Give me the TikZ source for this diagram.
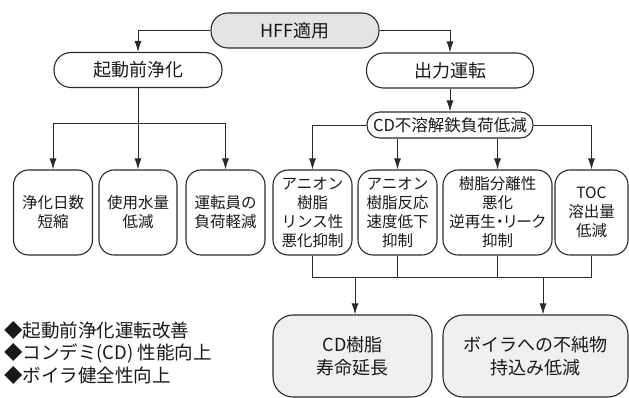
\documentclass[tikz,border=0pt]{standalone}
\usepackage{fontspec}
\setmainfont{Noto Sans CJK JP}
\usetikzlibrary{arrows.meta}
\newcommand\fsz[2]{\fontsize{#1}{#2}\selectfont}
\definecolor{edge}{HTML}{2A2A2A}
\definecolor{hfffill}{HTML}{E2E4E6}
\definecolor{botfill}{HTML}{EEF0F1}
\tikzset{
  box/.style={draw=edge, line width=1.1pt, inner sep=0pt, align=center, text=black!90},
  pill/.style={box, rounded corners=17pt, minimum height=35pt, font=\fsz{18}{22}},
  smallpill/.style={box, rounded corners=12.5pt, minimum height=26pt, font=\fsz{16.5}{20}},
  midbox/.style={box, rounded corners=15pt, minimum height=85pt, font=\fsz{15.5}{19}},
  botbox/.style={box, rounded corners=20pt, minimum height=82pt, font=\fsz{18}{23}, fill=botfill},
  ln/.style={draw=edge, line width=0.9pt},
  arr/.style={ln, -{Latex[length=11pt,width=7pt]}},
}
\begin{document}
\begin{tikzpicture}[x=1pt,y=-1pt]
\useasboundingbox (0,0) rectangle (629,398);
% top
\node[pill, fill=hfffill, minimum width=168pt] (hff) at (295,30.5) {HFF適用};
\node[pill, minimum width=168pt] (pre) at (138,70) {起動前浄化};
\node[pill, minimum width=167pt] (out) at (450,70.5) {出力運転};
\node[smallpill, minimum width=166pt] (cd) at (450,125) {CD不溶解鉄負荷低減};
% left boxes
\node[midbox, minimum width=79pt] (b1) at (53,212.5) {浄化日数\\短縮};
\node[midbox, minimum width=78pt] (b2) at (138,212.5) {使用水量\\低減};
\node[midbox, minimum width=79pt] (b3) at (225.5,212.5) {運転員の\\負荷軽減};
% middle boxes
\node[midbox, minimum width=79pt] (mA) at (312.5,212.5) {アニオン\\樹脂\\リンス性\\悪化抑制};
\node[midbox, minimum width=79pt] (mB) at (397.5,212.5) {アニオン\\樹脂反応\\速度低下\\抑制};
\node[midbox, minimum width=109pt] (mC) at (497.5,212.5) {樹脂分離性\\悪化\\{\addfontfeatures{RawFeature=+palt}逆再生・リーク}\\抑制};
\node[midbox, minimum width=73pt] (mD) at (591.5,212.5) {TOC\\溶出量\\低減};
% bottom boxes
\node[botbox, minimum width=159pt] (E) at (352.5,356) {CD樹脂\\寿命延長};
\node[botbox, minimum width=185pt] (F) at (535.5,356) {ボイラへの不純物\\持込み低減};
% legend
\node[anchor=west, align=left, inner sep=0pt, font=\fsz{18.5}{22.5}, text=black!90] (leg) at (4,352.5)
  {◆起動前浄化運転改善\\◆コンデミ(CD) 性能向上\\◆ボイラ健全性向上};
% connectors
\draw[arr] (hff.west) -| (pre.north);
\draw[arr] (hff.east) -| (out.north);
\coordinate (jl) at (138,123);
\draw[arr] (pre.south) -- (b2.north);
\draw[arr] (jl) -| (b1.north);
\draw[arr] (jl) -| (b3.north);
\draw[arr] (out.south) -- (cd.north);
\draw[arr] (cd.west) -| (mA.north);
\draw[arr] (cd.east) -| (mD.north);
\draw[arr] (mB.north |- cd.south) -- (mB.north);
\draw[arr] (mC.north |- cd.south) -- (mC.north);
\coordinate (bus) at (0,277);
\draw[ln] (mA.south) |- (mD.south |- bus) -- (mD.south);
\draw[ln] (mB.south) -- (mB.south |- bus);
\draw[ln] (mC.south) -- (mC.south |- bus);
\coordinate (eb) at (355,277);
\coordinate (fb) at (543,277);
\draw[arr] (eb) -- (eb |- E.north);
\draw[arr] (fb) -- (fb |- F.north);
\end{tikzpicture}
\end{document}
